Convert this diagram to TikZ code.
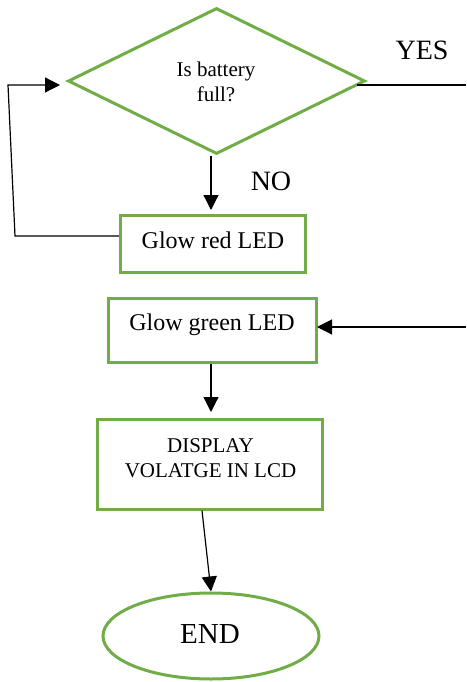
\documentclass[tikz,border=0pt]{standalone}
\usepackage{fontspec}
\setmainfont{Liberation Serif}
\usetikzlibrary{shapes.geometric,arrows.meta}
\definecolor{grn}{RGB}{112,173,71}
\tikzset{
  box/.style={draw=grn,line width=3pt,rectangle,inner sep=0pt},
  txt/.style={anchor=base,inner sep=0pt,align=center},
  conn/.style={line width=1.2pt,-{Triangle[length=15pt,width=15pt]}},
  plainline/.style={line width=1.2pt},
}
\begin{document}
\begin{tikzpicture}[x=1pt,y=-1pt]
\useasboundingbox (0,0) rectangle (466,682);
% shapes
\node[draw=grn,line width=3pt,diamond,minimum width=297pt,minimum height=146pt,inner sep=0pt] (dec) at (216.5,81) {};
\node[box,minimum width=185pt,minimum height=57pt] (red) at (213,243.5) {};
\node[box,minimum width=208pt,minimum height=64pt] (green) at (212,330) {};
\node[box,minimum width=225pt,minimum height=90pt] (disp) at (209.5,464) {};
\node[draw=grn,line width=3pt,ellipse,minimum width=216pt,minimum height=86pt,inner sep=0pt] (endn) at (211,636) {};
% texts
\node[txt,font=\fontsize{21}{25}\selectfont] (tdec) at (216,102) {Is battery\\full?};
\node[txt,font=\fontsize{24}{28}\selectfont] (tred) at (213,248) {Glow red LED};
\node[txt,font=\fontsize{24}{28}\selectfont] (tgreen) at (212,330) {Glow green LED};
\node[txt,font=\fontsize{21}{25}\selectfont] (tdisp) at (210.5,477) {DISPLAY\\VOLATGE IN LCD};
\node[txt,font=\fontsize{29}{33}\selectfont] (tend) at (210,643) {END};
\node[txt,font=\fontsize{28}{32}\selectfont] (yes) at (422,60) {YES};
\node[txt,font=\fontsize{28}{32}\selectfont] (no) at (271,190) {NO};
% coordinates
\coordinate (loopend) at (60,85);
\coordinate (yesend) at (466,85);
\coordinate (yesin) at (466,327);
% connectors
\draw[conn] (211,0 |- dec.south) -- (211,210);
\draw[conn] ([yshift=7.5pt]red.west) -- (15,236) -- (8,85) -- (loopend);
\draw[plainline] ([xshift=-10pt,yshift=-4pt]dec.east) -- (yesend);
\draw[conn] (yesin) -- (317,327);
\draw[conn] (211,0 |- green.south) -- (211,412);
\draw[conn] ([xshift=-7.5pt]disp.south) -- (endn.north);
\end{tikzpicture}
\end{document}
